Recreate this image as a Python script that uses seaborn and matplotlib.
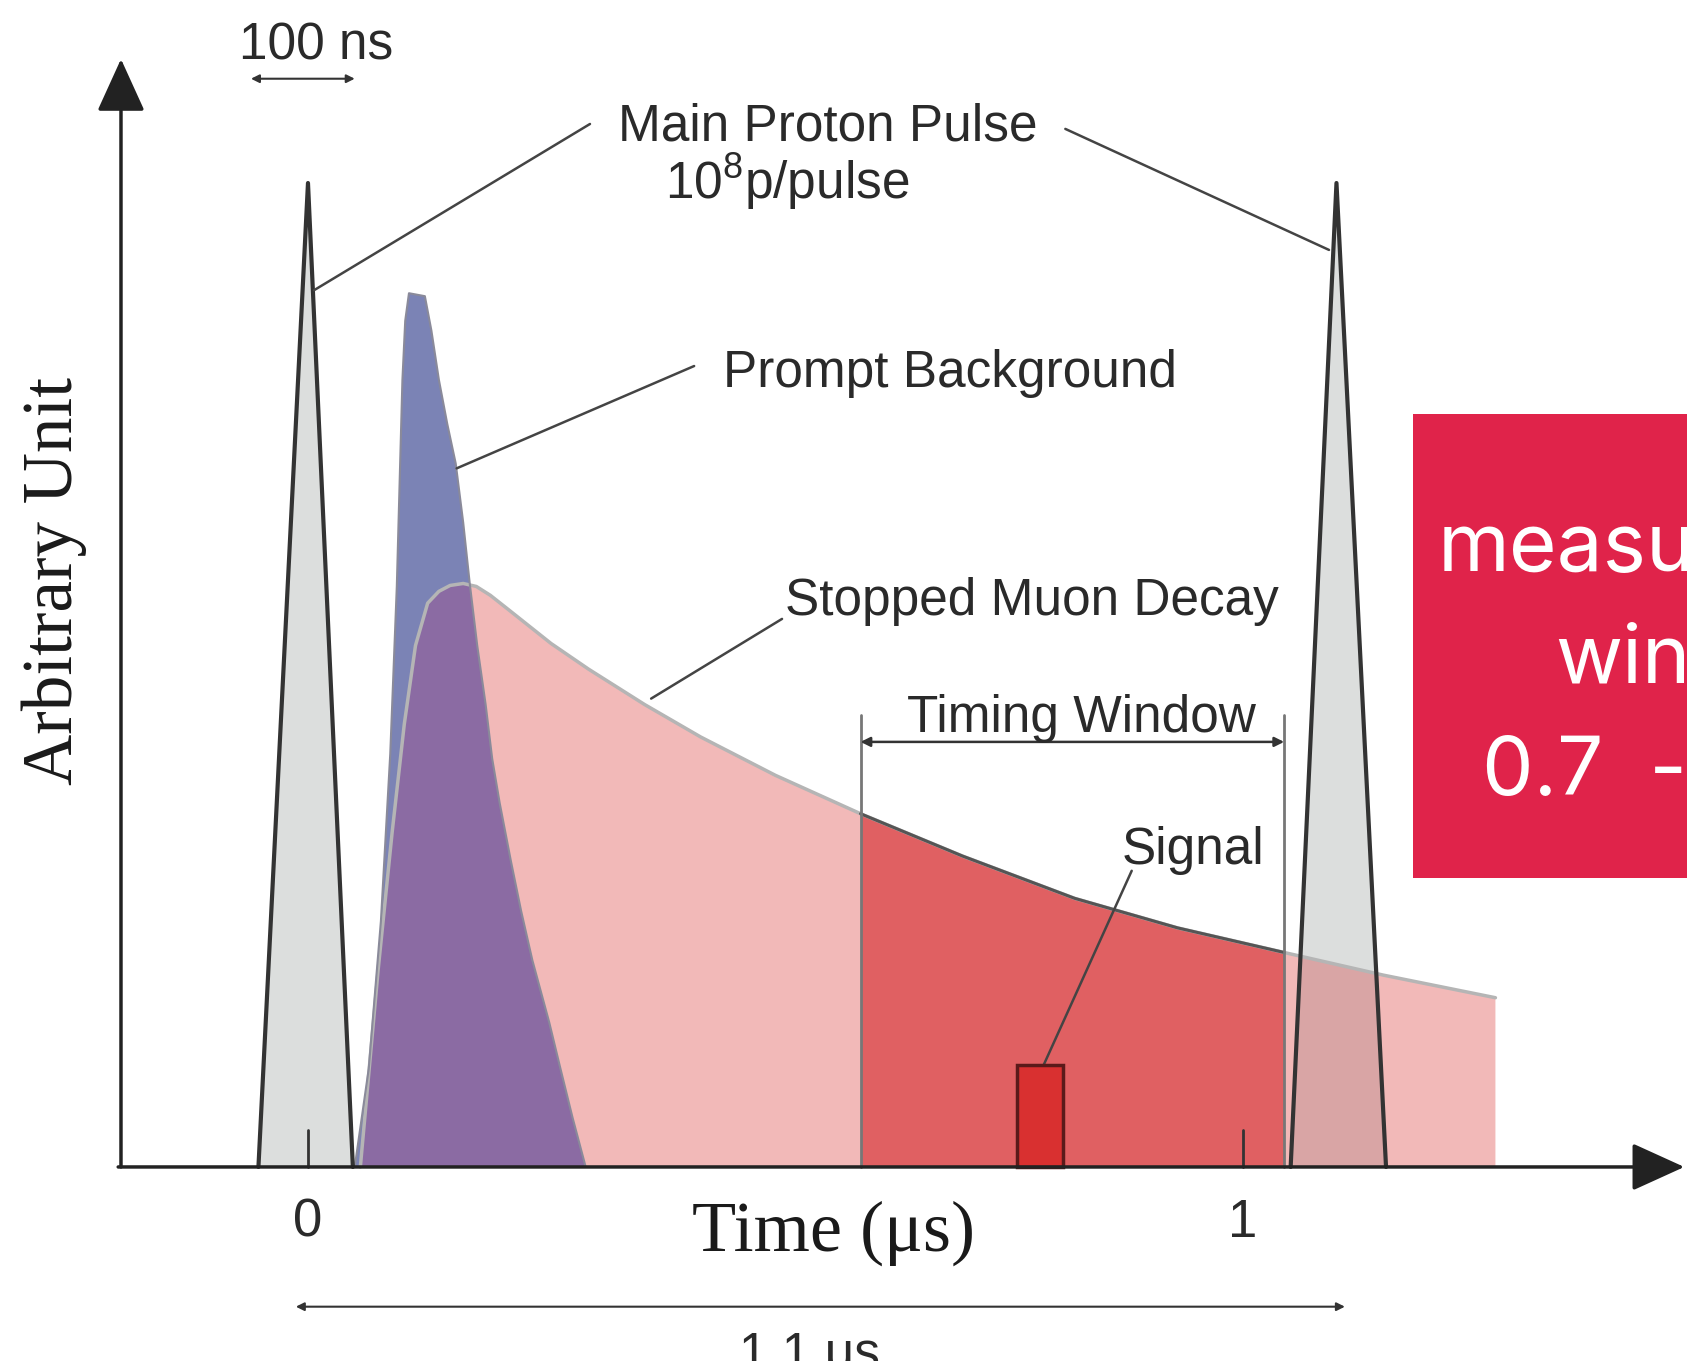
import numpy as np
import seaborn as sns
import matplotlib.pyplot as plt
from matplotlib.patches import Rectangle

# time in microseconds, heights in arbitrary units (pulse apex = 1)
pulse1_t = [-0.053, 0.0, 0.048]
pulse2_t = [1.051, 1.1, 1.153]
pulse_y = [0.0, 1.0, 0.0]

prompt_t = [0.050, 0.065, 0.078, 0.088, 0.095, 0.101, 0.104, 0.108, 0.125, 0.132, 0.140,
            0.149, 0.158, 0.166, 0.173, 0.181, 0.190, 0.197, 0.205, 0.217, 0.228,
            0.240, 0.258, 0.270, 0.283, 0.297]
prompt_y = [0.0, 0.10, 0.25, 0.42, 0.59, 0.80, 0.86, 0.888, 0.885, 0.85, 0.80,
            0.755, 0.715, 0.655, 0.593, 0.53, 0.47, 0.415, 0.37, 0.311, 0.26,
            0.21, 0.147, 0.10, 0.05, 0.0]

muon_t = [0.056, 0.075, 0.090, 0.103, 0.115, 0.128, 0.140, 0.152, 0.166, 0.180, 0.195,
          0.215, 0.26, 0.30, 0.36, 0.42, 0.50, 0.591, 0.70, 0.82, 0.93, 1.044, 1.15,
          1.27, 1.27]
muon_y = [0.0, 0.20, 0.34, 0.45, 0.53, 0.573, 0.585, 0.591, 0.593, 0.590, 0.581,
          0.566, 0.532, 0.506, 0.47, 0.437, 0.398, 0.359, 0.316, 0.273, 0.243, 0.218, 0.195,
          0.172, 0.0]

window = [0.591, 1.044]
signal_t = [0.758, 0.808]
signal_h = 0.104
tick_pos = [0, 1]
tick_labels = ["0", "1"]

sns.set_theme(style="white")
plt.rcParams["font.family"] = ["Liberation Sans", "DejaVu Sans"]
plt.rcParams["mathtext.fontset"] = "custom"
plt.rcParams["mathtext.rm"] = "Liberation Sans"

fig = plt.figure(figsize=(16.87, 13.61), dpi=100)
ax = fig.add_axes([0, 0, 1, 1])
ax.set_xlim(-0.3294, 1.4749)
ax.set_ylim(-0.1972, 1.1860)
ax.axis("off")

txt = "#2a2a2a"

# stopped muon decay (pink) and prompt background (blue)
muon_poly = ax.fill(muon_t, muon_y, color="#f2b9b8", lw=0, zorder=1)[0]
ax.fill(prompt_t, prompt_y, color="#7b83b5", lw=0, zorder=1.1)
overlap = ax.fill(prompt_t, prompt_y, color="#8b6ba3", lw=0, zorder=1.2)[0]
overlap.set_clip_path(muon_poly)

# timing window part of the decay
win = ax.fill(muon_t, muon_y, color="#e06062", lw=0, zorder=1.3)[0]
win.set_clip_path(Rectangle((window[0], 0), window[1] - window[0], 1.2, transform=ax.transData))

# proton pulses
for pt in (pulse1_t, pulse2_t):
    ax.fill(pt, pulse_y, color="#dcdedd", lw=0, zorder=1.4)
p2 = ax.fill(pulse2_t, pulse_y, color="#d9a5a5", lw=0, zorder=1.5)[0]
p2.set_clip_path(muon_poly)

# outlines
sns.lineplot(x=muon_t[:-1], y=muon_y[:-1], ax=ax, color="#b5b5b5", lw=2.5,
             estimator=None, sort=False, zorder=2)
m_in = [(t, y) for t, y in zip(muon_t, muon_y) if window[0] <= t <= window[1]]
sns.lineplot(x=[p[0] for p in m_in], y=[p[1] for p in m_in], ax=ax, color="#555555",
             lw=2.2, estimator=None, sort=False, zorder=2.1)
sns.lineplot(x=prompt_t, y=prompt_y, ax=ax, color="#8a8a9a", lw=1.5,
             estimator=None, sort=False, zorder=2)
for pt in (pulse1_t, pulse2_t):
    sns.lineplot(x=pt, y=pulse_y, ax=ax, color="#333333", lw=3,
                 estimator=None, sort=False, zorder=2.2)

# signal box
ax.add_patch(Rectangle((signal_t[0], 0), signal_t[1] - signal_t[0], signal_h,
                       facecolor="#d93030", edgecolor="#5a1a1a", lw=2.5, zorder=2.5))

# timing window markers
for w in window:
    ax.plot([w, w], [0, 0.459], color="#777777", lw=2, zorder=2.3)
ax.annotate("", xy=(window[1], 0.432), xytext=(window[0], 0.432),
            arrowprops=dict(arrowstyle="<|-|>", color="#333333", lw=1.8,
                            mutation_scale=14, shrinkA=0, shrinkB=0), zorder=3)
ax.text(0.6406, 0.442, "Timing Window", ha="left", va="baseline", fontsize=37, color=txt)

# axes with arrows
ax.annotate("", xy=(-0.2, 1.126), xytext=(-0.2, 0),
            arrowprops=dict(arrowstyle="-|>,head_length=0.55,head_width=0.25", color="#222222",
                            lw=2.5, mutation_scale=60, shrinkA=0, shrinkB=0), zorder=3)
ax.annotate("", xy=(1.472, 0), xytext=(-0.203, 0),
            arrowprops=dict(arrowstyle="-|>,head_length=0.55,head_width=0.25", color="#222222",
                            lw=2.5, mutation_scale=60, shrinkA=0, shrinkB=0), zorder=3)
for tp, tl in zip(tick_pos, tick_labels):
    ax.plot([tp, tp], [0, 0.038], color="#333333", lw=2, zorder=2.3)
    ax.text(tp, -0.0711, tl, ha="center", va="baseline", fontsize=38, color=txt)

ax.text(0.562, -0.0854, "Time (μs)", ha="center", va="baseline", fontsize=52,
        family="Liberation Serif", color="#1a1a1a")
ax.text(-0.2717, 0.5955, "Arbitrary Unit", ha="center", va="center", rotation=90,
        fontsize=51, family="Liberation Serif", color="#1a1a1a")

# scale bars
ax.annotate("", xy=(0.050, 1.106), xytext=(-0.061, 1.106),
            arrowprops=dict(arrowstyle="<|-|>", color="#333333", lw=1.5,
                            mutation_scale=12, shrinkA=0, shrinkB=0))
ax.text(0.0086, 1.126, "100 ns", ha="center", va="baseline", fontsize=37, color=txt)
ax.annotate("", xy=(1.109, -0.142), xytext=(-0.013, -0.142),
            arrowprops=dict(arrowstyle="<|-|>", color="#333333", lw=1.5,
                            mutation_scale=12, shrinkA=0, shrinkB=0))
ax.text(0.536, -0.1667, "1.1 μs", ha="center", va="top", fontsize=37, color=txt)

# labels with leader lines
lead = dict(color="#444444", lw=1.8, zorder=2.4)
ax.text(0.5555, 1.0437, "Main Proton Pulse", ha="center", va="baseline", fontsize=37, color=txt)
ax.text(0.513, 0.9837, r"10$^{\mathrm{8}}$p/pulse", ha="center", va="baseline", fontsize=37, color=txt)
ax.plot([0.3016, 0.0064], [1.060, 0.891], **lead)
ax.plot([0.81, 1.092], [1.055, 0.932], **lead)
ax.text(0.4439, 0.7927, "Prompt Background", ha="left", va="baseline", fontsize=37, color=txt)
ax.plot([0.413, 0.159], [0.814, 0.710], **lead)
ax.text(0.5102, 0.561, "Stopped Muon Decay", ha="left", va="baseline", fontsize=37, color=txt)
ax.plot([0.507, 0.367], [0.557, 0.476], **lead)
ax.text(0.8706, 0.308, "Signal", ha="left", va="baseline", fontsize=37, color=txt)
ax.plot([0.881, 0.787], [0.301, signal_h], **lead)

# red overlay box on the right
ax.add_patch(Rectangle((1.1818, 0.2937), 0.4, 0.4715, facecolor="#e0234a", lw=0, zorder=4))
for x, y, s in [(1.2086, 0.6057, "measu"), (1.3337, 0.4919, "win"), (1.2556, 0.378, "0.7  -")]:
    ax.text(x, y, s, ha="left", va="baseline", fontsize=59, family="Inter",
            color="white", zorder=5)

plt.savefig("out.png", dpi=100)
